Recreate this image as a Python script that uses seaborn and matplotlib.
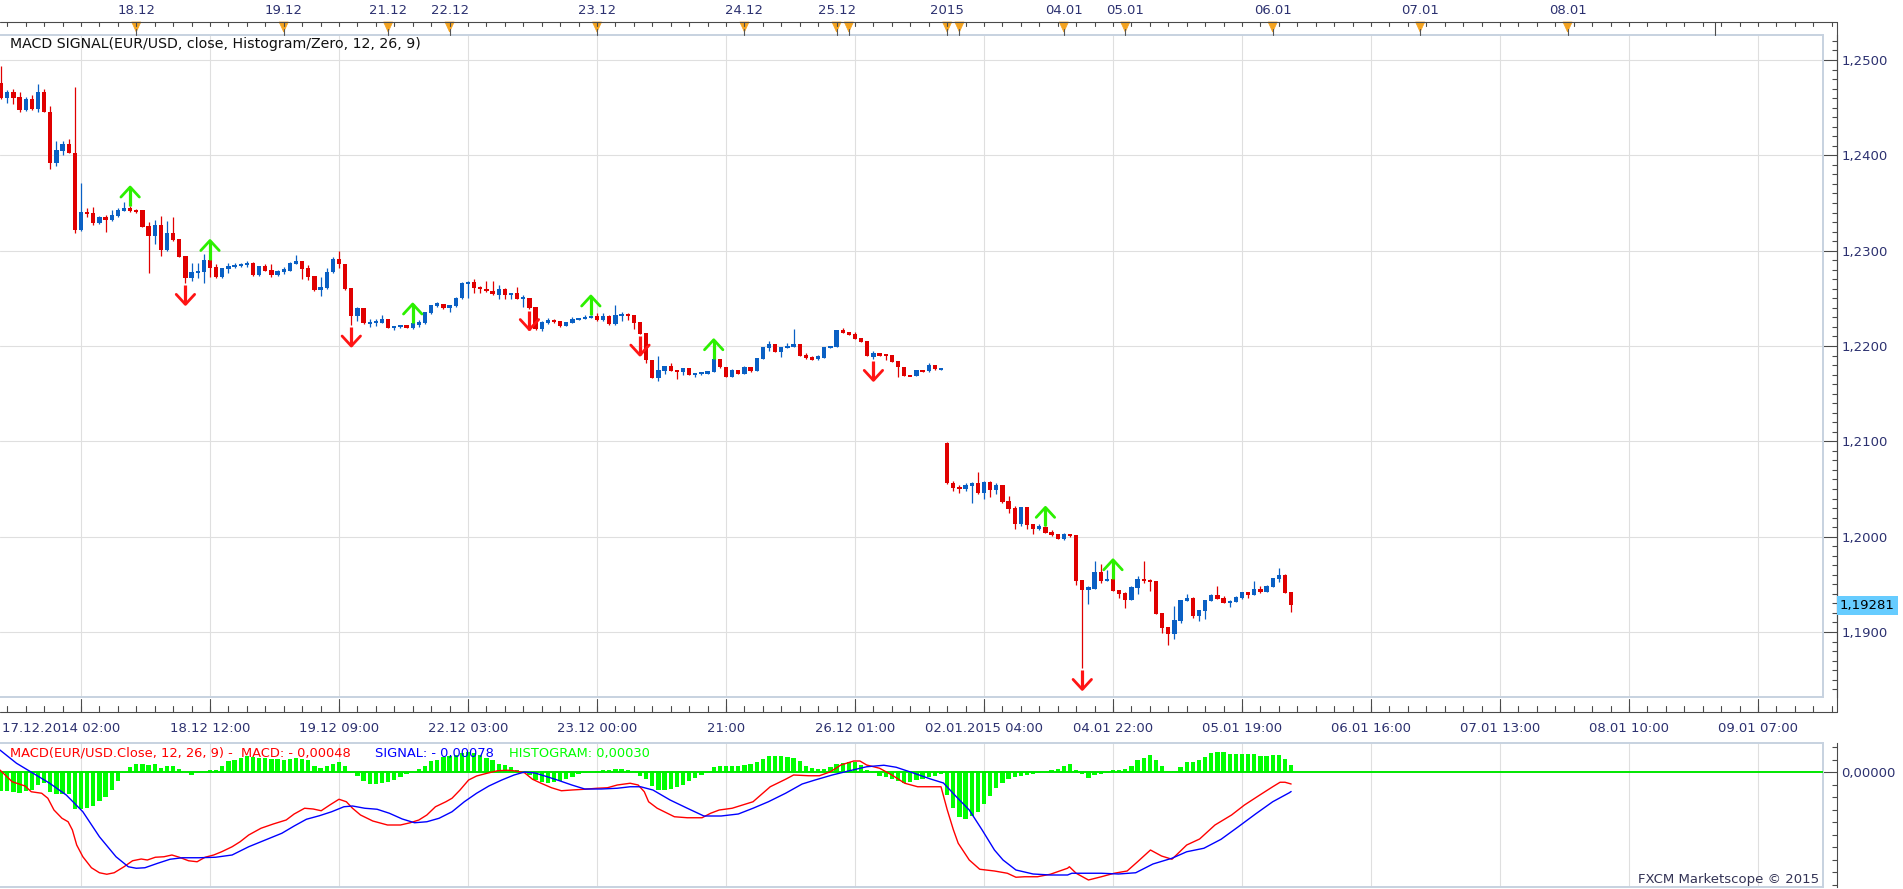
import numpy as np
import matplotlib
matplotlib.use("Agg")
import matplotlib.pyplot as plt
import matplotlib.transforms as mtransforms
from matplotlib.lines import Line2D
from matplotlib.patches import Polygon
from matplotlib.ticker import FixedLocator, MultipleLocator, FuncFormatter
import seaborn as sns

# ---------------- data (EUR/USD hourly candles, bar index 0 = 17.12.2014 02:00) ----------------
opens = [
1.24755, 1.24604, 1.24664, 1.24611, 1.24478, 1.24590, 1.24489, 1.24664, 1.24457, 1.23922,
1.24048, 1.24118, 1.24027, 1.23216, 1.23405, 1.23395, 1.23290, 1.23353, 1.23321, 1.23366,
1.23419, 1.23450, 1.23426, 1.23426, 1.23261, 1.23157, 1.23269, 1.23007, 1.23185, 1.23122,
1.22944, 1.22716, 1.22768, 1.22776, 1.22902, 1.22825, 1.22726, 1.22810, 1.22831, 1.22842,
1.22849, 1.22873, 1.22744, 1.22836, 1.22797, 1.22744, 1.22776, 1.22789, 1.22860, 1.22891,
1.22818, 1.22734, 1.22587, 1.22608, 1.22773, 1.22912, 1.22863, 1.22611, 1.22314, 1.22395,
1.22238, 1.22244, 1.22244, 1.22283, 1.22191, 1.22202, 1.22220, 1.22191, 1.22220, 1.22238,
1.22349, 1.22419, 1.22440, 1.22395, 1.22422, 1.22500, 1.22657, 1.22674, 1.22622, 1.22600,
1.22580, 1.22534, 1.22600, 1.22534, 1.22555, 1.22503, 1.22503, 1.22409, 1.22178, 1.22244,
1.22272, 1.22259, 1.22213, 1.22244, 1.22279, 1.22290, 1.22301, 1.22317, 1.22272, 1.22317,
1.22230, 1.22322, 1.22335, 1.22325, 1.22251, 1.22136, 1.21856, 1.21667, 1.21740, 1.21790,
1.21748, 1.21730, 1.21766, 1.21695, 1.21713, 1.21709, 1.21730, 1.21863, 1.21779, 1.21677,
1.21748, 1.21709, 1.21779, 1.21737, 1.21863, 1.21978, 1.22020, 1.21940, 1.21982, 1.21992,
1.22020, 1.21902, 1.21887, 1.21860, 1.21877, 1.21982, 1.21989, 1.22167, 1.22146, 1.22125,
1.22083, 1.22052, 1.21887, 1.21923, 1.21905, 1.21905, 1.21839, 1.21779, 1.21695, 1.21688,
1.21748, 1.21734, 1.21797, 1.21755, 1.20985, 1.20566, 1.20524, 1.20499, 1.20534, 1.20559,
1.20461, 1.20576, 1.20489, 1.20538, 1.20377, 1.20300, 1.20132, 1.20311, 1.20132, 1.20080,
1.20104, 1.20048, 1.20027, 1.19975, 1.20027, 1.20017, 1.19545, 1.19440, 1.19454, 1.19629,
1.19538, 1.19555, 1.19440, 1.19412, 1.19335, 1.19464, 1.19555, 1.19545, 1.19534, 1.19199,
1.19052, 1.18982, 1.19118, 1.19328, 1.19359, 1.19170, 1.19223, 1.19328, 1.19391, 1.19359,
1.19311, 1.19318, 1.19359, 1.19419, 1.19391, 1.19454, 1.19419, 1.19471, 1.19558, 1.19600,
1.19419]

highs = [
1.24937, 1.24685, 1.24692, 1.24667, 1.24611, 1.24632, 1.24748, 1.24692, 1.24517, 1.24150,
1.24150, 1.24171, 1.24720, 1.23706, 1.23450, 1.23461, 1.23363, 1.23374, 1.23426, 1.23450,
1.23507, 1.23468, 1.23442, 1.23431, 1.23297, 1.23321, 1.23363, 1.23311, 1.23356, 1.23127,
1.22949, 1.22867, 1.22867, 1.22965, 1.22907, 1.22856, 1.22818, 1.22867, 1.22867, 1.22875,
1.22891, 1.22878, 1.22839, 1.22860, 1.22860, 1.22792, 1.22831, 1.22878, 1.22954, 1.22896,
1.22849, 1.22739, 1.22726, 1.22815, 1.22936, 1.22996, 1.22865, 1.22613, 1.22405, 1.22398,
1.22279, 1.22279, 1.22325, 1.22286, 1.22214, 1.22225, 1.22225, 1.22241, 1.22272, 1.22361,
1.22435, 1.22461, 1.22445, 1.22435, 1.22513, 1.22671, 1.22678, 1.22702, 1.22626, 1.22681,
1.22681, 1.22639, 1.22605, 1.22561, 1.22615, 1.22534, 1.22508, 1.22414, 1.22257, 1.22290,
1.22286, 1.22262, 1.22251, 1.22307, 1.22298, 1.22328, 1.22325, 1.22343, 1.22343, 1.22322,
1.22430, 1.22359, 1.22349, 1.22330, 1.22255, 1.22141, 1.21858, 1.21895, 1.21793, 1.21818,
1.21751, 1.21769, 1.21769, 1.21716, 1.21722, 1.21740, 1.21866, 1.21866, 1.21782, 1.21755,
1.21751, 1.21787, 1.21782, 1.21877, 1.21992, 1.22055, 1.22024, 1.21989, 1.22034, 1.22178,
1.22024, 1.21923, 1.21891, 1.21905, 1.21992, 1.22003, 1.22170, 1.22185, 1.22150, 1.22150,
1.22087, 1.22055, 1.21947, 1.21926, 1.21908, 1.21908, 1.21842, 1.21782, 1.21698, 1.21748,
1.21751, 1.21818, 1.21800, 1.21772, 1.20989, 1.20587, 1.20541, 1.20566, 1.20576, 1.20681,
1.20580, 1.20580, 1.20566, 1.20541, 1.20426, 1.20321, 1.20314, 1.20314, 1.20135, 1.20132,
1.20108, 1.20069, 1.20030, 1.20035, 1.20030, 1.20020, 1.19548, 1.19482, 1.19744, 1.19713,
1.19650, 1.19558, 1.19443, 1.19416, 1.19479, 1.19590, 1.19744, 1.19555, 1.19538, 1.19202,
1.19055, 1.19272, 1.19338, 1.19398, 1.19363, 1.19233, 1.19338, 1.19395, 1.19485, 1.19377,
1.19332, 1.19380, 1.19422, 1.19422, 1.19535, 1.19482, 1.19489, 1.19569, 1.19674, 1.19605,
1.19422]

lows = [
1.24590, 1.24549, 1.24535, 1.24457, 1.24465, 1.24475, 1.24457, 1.24454, 1.23853, 1.23888,
1.24003, 1.24024, 1.23188, 1.23209, 1.23356, 1.23269, 1.23279, 1.23199, 1.23311, 1.23358,
1.23416, 1.23410, 1.23395, 1.23248, 1.22768, 1.23066, 1.22947, 1.23001, 1.23101, 1.22933,
1.22657, 1.22678, 1.22710, 1.22663, 1.22726, 1.22710, 1.22718, 1.22762, 1.22815, 1.22828,
1.22831, 1.22739, 1.22739, 1.22786, 1.22726, 1.22734, 1.22755, 1.22786, 1.22856, 1.22699,
1.22692, 1.22582, 1.22524, 1.22603, 1.22765, 1.22815, 1.22592, 1.22220, 1.22265, 1.22233,
1.22202, 1.22213, 1.22241, 1.22188, 1.22167, 1.22193, 1.22188, 1.22178, 1.22202, 1.22230,
1.22340, 1.22414, 1.22388, 1.22359, 1.22414, 1.22492, 1.22500, 1.22552, 1.22552, 1.22566,
1.22534, 1.22489, 1.22496, 1.22496, 1.22492, 1.22405, 1.22393, 1.22172, 1.22157, 1.22230,
1.22244, 1.22204, 1.22209, 1.22241, 1.22275, 1.22286, 1.22293, 1.22267, 1.22267, 1.22225,
1.22225, 1.22265, 1.22272, 1.22178, 1.22125, 1.21818, 1.21664, 1.21636, 1.21703, 1.21737,
1.21656, 1.21698, 1.21692, 1.21671, 1.21692, 1.21706, 1.21727, 1.21772, 1.21674, 1.21674,
1.21706, 1.21706, 1.21727, 1.21734, 1.21860, 1.21947, 1.21937, 1.21887, 1.21978, 1.21989,
1.21895, 1.21860, 1.21850, 1.21856, 1.21874, 1.21978, 1.21986, 1.22136, 1.22112, 1.22070,
1.22038, 1.21891, 1.21860, 1.21891, 1.21853, 1.21832, 1.21677, 1.21685, 1.21682, 1.21685,
1.21730, 1.21730, 1.21751, 1.21751, 1.20555, 1.20478, 1.20461, 1.20478, 1.20349, 1.20447,
1.20391, 1.20419, 1.20447, 1.20349, 1.20251, 1.20080, 1.20114, 1.20077, 1.20027, 1.20069,
1.20038, 1.20006, 1.19975, 1.19964, 1.19993, 1.19492, 1.18618, 1.19293, 1.19450, 1.19510,
1.19535, 1.19426, 1.19353, 1.19254, 1.19332, 1.19398, 1.19517, 1.19429, 1.19188, 1.18992,
1.18863, 1.18926, 1.19091, 1.19324, 1.19149, 1.19118, 1.19136, 1.19324, 1.19346, 1.19303,
1.19265, 1.19314, 1.19342, 1.19359, 1.19387, 1.19405, 1.19416, 1.19468, 1.19527, 1.19405,
1.19214]

closes = [
1.24604, 1.24664, 1.24604, 1.24478, 1.24590, 1.24489, 1.24664, 1.24457, 1.23922, 1.24056,
1.24118, 1.24027, 1.23216, 1.23405, 1.23384, 1.23290, 1.23353, 1.23321, 1.23374, 1.23426,
1.23450, 1.23419, 1.23416, 1.23251, 1.23157, 1.23269, 1.23007, 1.23185, 1.23111, 1.22936,
1.22716, 1.22776, 1.22789, 1.22902, 1.22821, 1.22726, 1.22815, 1.22842, 1.22849, 1.22860,
1.22873, 1.22744, 1.22836, 1.22789, 1.22744, 1.22786, 1.22804, 1.22873, 1.22891, 1.22810,
1.22726, 1.22587, 1.22615, 1.22776, 1.22912, 1.22856, 1.22594, 1.22314, 1.22395, 1.22238,
1.22251, 1.22251, 1.22283, 1.22191, 1.22209, 1.22220, 1.22191, 1.22238, 1.22248, 1.22353,
1.22430, 1.22447, 1.22395, 1.22430, 1.22506, 1.22663, 1.22674, 1.22611, 1.22594, 1.22576,
1.22542, 1.22594, 1.22538, 1.22555, 1.22496, 1.22505, 1.22395, 1.22178, 1.22251, 1.22272,
1.22251, 1.22209, 1.22248, 1.22283, 1.22293, 1.22307, 1.22317, 1.22272, 1.22317, 1.22230,
1.22328, 1.22335, 1.22325, 1.22244, 1.22129, 1.21853, 1.21667, 1.21748, 1.21790, 1.21740,
1.21734, 1.21766, 1.21695, 1.21713, 1.21714, 1.21737, 1.21863, 1.21776, 1.21677, 1.21751,
1.21709, 1.21782, 1.21737, 1.21874, 1.21989, 1.22020, 1.21940, 1.21986, 1.22000, 1.22020,
1.21898, 1.21877, 1.21853, 1.21891, 1.21989, 1.22000, 1.22167, 1.22139, 1.22115, 1.22073,
1.22041, 1.21895, 1.21926, 1.21895, 1.21898, 1.21835, 1.21776, 1.21688, 1.21685, 1.21745,
1.21734, 1.21797, 1.21755, 1.21769, 1.20559, 1.20513, 1.20503, 1.20541, 1.20559, 1.20461,
1.20576, 1.20489, 1.20538, 1.20363, 1.20286, 1.20132, 1.20311, 1.20122, 1.20080, 1.20111,
1.20041, 1.20017, 1.19978, 1.20027, 1.20006, 1.19538, 1.19443, 1.19468, 1.19629, 1.19538,
1.19555, 1.19429, 1.19398, 1.19335, 1.19475, 1.19555, 1.19538, 1.19527, 1.19191, 1.19044,
1.18982, 1.19125, 1.19335, 1.19353, 1.19170, 1.19230, 1.19335, 1.19391, 1.19349, 1.19307,
1.19328, 1.19370, 1.19419, 1.19387, 1.19450, 1.19419, 1.19485, 1.19566, 1.19600, 1.19408,
1.19281]

buy_signals = [21, 34, 67, 96, 116, 170, 181]
sell_signals = [30, 57, 86, 104, 142, 176]

hist_vals = [
-0.00077, -0.00077, -0.00081, -0.00084, -0.00077, -0.00073, -0.00051, -0.00044, -0.00081, -0.00087,
-0.00087, -0.00087, -0.00148, -0.00148, -0.00144, -0.00137, -0.00117, -0.00100, -0.00073, -0.00037,
-0.00004, 0.00019, 0.00033, 0.00033, 0.00029, 0.00033, 0.00016, 0.00023, 0.00023, 0.00012,
0.00001, -0.00011, -0.00004, 0.00000, 0.00009, 0.00009, 0.00023, 0.00043, 0.00049, 0.00056,
0.00063, 0.00060, 0.00056, 0.00056, 0.00053, 0.00053, 0.00049, 0.00052, 0.00056, 0.00052,
0.00047, 0.00023, 0.00016, 0.00023, 0.00033, 0.00040, 0.00023, -0.00002, -0.00017, -0.00037,
-0.00047, -0.00047, -0.00044, -0.00041, -0.00031, -0.00020, -0.00007, 0.00002, 0.00012, 0.00025,
0.00043, 0.00049, 0.00060, 0.00065, 0.00069, 0.00076, 0.00079, 0.00076, 0.00069, 0.00056,
0.00047, 0.00033, 0.00029, 0.00020, 0.00007, -0.00004, -0.00011, -0.00031, -0.00041, -0.00044,
-0.00041, -0.00037, -0.00028, -0.00020, -0.00008, -0.00004, 0.00002, 0.00005, 0.00009, 0.00009,
0.00012, 0.00012, 0.00007, 0.00003, -0.00016, -0.00028, -0.00057, -0.00071, -0.00073, -0.00068,
-0.00060, -0.00051, -0.00037, -0.00024, -0.00013, -0.00004, 0.00019, 0.00023, 0.00023, 0.00025,
0.00025, 0.00029, 0.00033, 0.00039, 0.00053, 0.00063, 0.00065, 0.00065, 0.00060, 0.00056,
0.00043, 0.00023, 0.00016, 0.00012, 0.00012, 0.00019, 0.00033, 0.00036, 0.00039, 0.00039,
0.00029, 0.00009, -0.00004, -0.00015, -0.00020, -0.00028, -0.00037, -0.00044, -0.00041, -0.00033,
-0.00028, -0.00020, -0.00015, -0.00009, -0.00091, -0.00144, -0.00180, -0.00188, -0.00177, -0.00160,
-0.00128, -0.00096, -0.00064, -0.00044, -0.00028, -0.00018, -0.00014, -0.00012, -0.00008, -0.00004,
0.00002, 0.00009, 0.00013, 0.00025, 0.00033, 0.00007, -0.00008, -0.00024, -0.00011, -0.00007,
-0.00002, 0.00007, 0.00009, 0.00013, 0.00025, 0.00049, 0.00056, 0.00069, 0.00047, 0.00025,
0.00005, 0.00005, 0.00020, 0.00039, 0.00039, 0.00047, 0.00059, 0.00076, 0.00081, 0.00079,
0.00072, 0.00073, 0.00073, 0.00072, 0.00072, 0.00065, 0.00065, 0.00069, 0.00069, 0.00053,
0.00030]

macd_x = [-0.2, 1.8, 3.9, 4.9, 6.6, 7.6, 8.6, 9.9, 10.9, 11.6, 12.3, 13.3, 14.7, 16.0, 17.2, 18.4,
          20.0, 21.4, 22.8, 23.8, 25.1, 26.5, 27.8, 29.0, 30.5, 31.9, 33.2, 34.6, 35.9, 37.6, 38.9,
          40.3, 42.3, 44.3, 46.4, 47.7, 49.4, 50.8, 52.1, 53.5, 55.0, 56.2, 57.2, 58.5, 60.5, 62.9,
          65.0, 66.6, 68.0, 69.3, 70.7, 72.4, 73.4, 74.7, 76.1, 77.4, 79.1, 80.8, 82.5, 83.8, 85.2,
          86.5, 87.9, 89.6, 91.2, 92.9, 95.0, 97.0, 98.7, 100.3, 102.4, 103.7, 104.7, 105.4, 106.8,
          109.6, 111.7, 114.1, 115.5, 116.9, 119.0, 120.7, 122.4, 125.2, 127.7, 129.0, 131.5, 133.2,
          135.0, 136.7, 138.8, 139.8, 140.9, 143.0, 145.0, 147.1, 149.2, 151.3, 153.0, 154.0, 155.0,
          155.8, 157.6, 159.3, 161.7, 163.8, 165.2, 166.6, 168.7, 170.8, 173.6, 173.9, 175.0, 177.0,
          179.1, 181.2, 183.3, 185.0, 187.1, 188.9, 190.6, 193.0, 195.1, 197.6, 200.3, 202.4, 204.9,
          207.0, 208.2, 209.0, 210.0]
macd_vals = [0.00008, -0.00039, -0.00056, -0.00079, -0.00085, -0.00105, -0.00152, -0.00185, -0.00199,
             -0.00232, -0.00292, -0.00339, -0.00383, -0.00403, -0.00409, -0.00403, -0.00379, -0.00355,
             -0.00348, -0.00352, -0.00341, -0.00339, -0.00332, -0.00341, -0.00355, -0.00359, -0.00341,
             -0.00332, -0.00319, -0.00299, -0.00279, -0.00252, -0.00225, -0.00208, -0.00192, -0.00168,
             -0.00145, -0.00148, -0.00155, -0.00132, -0.00109, -0.00119, -0.00145, -0.00172, -0.00196,
             -0.00212, -0.00212, -0.00203, -0.00192, -0.00172, -0.00139, -0.00119, -0.00105, -0.00072,
             -0.00032, -0.00016, -0.00005, 0.00005, 0.00007, 0.00004, -0.00003, -0.00029, -0.00045,
             -0.00063, -0.00075, -0.00072, -0.00069, -0.00065, -0.00063, -0.00052, -0.00045, -0.00052,
             -0.00079, -0.00119, -0.00145, -0.00179, -0.00183, -0.00183, -0.00165, -0.00152, -0.00145,
             -0.00132, -0.00119, -0.00059, -0.00029, -0.00012, -0.00015, -0.00015, 0.00001, 0.00028,
             0.00044, 0.00044, 0.00028, 0.00015, -0.00012, -0.00045, -0.00059, -0.00059, -0.00059,
             -0.00150, -0.00230, -0.00285, -0.00352, -0.00389, -0.00396, -0.00405, -0.00421, -0.00419,
             -0.00419, -0.00409, -0.00385, -0.00379, -0.00405, -0.00432, -0.00419, -0.00405, -0.00396,
             -0.00359, -0.00312, -0.00336, -0.00349, -0.00292, -0.00268, -0.00212, -0.00172, -0.00132,
             -0.00092, -0.00059, -0.00041, -0.00041, -0.00048]

signal_x = [-0.2, 2.5, 5.2, 7.9, 10.6, 13.3, 16.0, 18.7, 20.7, 22.0, 23.4, 25.5, 27.5, 29.5, 32.2,
            34.9, 37.6, 40.3, 43.0, 45.7, 47.7, 49.7, 51.8, 53.8, 55.8, 57.2, 59.2, 61.2, 63.2, 65.3,
            67.3, 69.3, 71.3, 73.4, 75.4, 77.4, 79.4, 81.5, 83.5, 85.2, 86.9, 88.9, 90.9, 92.9, 95.0,
            97.7, 100.3, 102.4, 104.1, 106.1, 108.9, 111.7, 114.4, 117.2, 120.0, 122.4, 124.9, 127.7,
            130.4, 132.5, 135.3, 138.1, 140.9, 143.7, 145.7, 148.5, 151.3, 153.4, 155.5, 157.6, 159.7,
            161.7, 163.1, 165.2, 168.0, 170.8, 173.6, 174.3, 179.1, 181.9, 184.7, 187.5, 190.6, 193.0,
            195.8, 198.6, 201.4, 204.2, 207.0, 209.7, 210.0]
signal_vals = [0.00088, 0.00035, -0.00005, -0.00045, -0.00092, -0.00159, -0.00259, -0.00339, -0.00379,
               -0.00385, -0.00383, -0.00365, -0.00349, -0.00343, -0.00343, -0.00341, -0.00332, -0.00299,
               -0.00272, -0.00245, -0.00216, -0.00189, -0.00175, -0.00159, -0.00139, -0.00136, -0.00145,
               -0.00149, -0.00165, -0.00188, -0.00203, -0.00199, -0.00185, -0.00159, -0.00119, -0.00085,
               -0.00056, -0.00032, -0.00012, 0.00000, -0.00004, -0.00019, -0.00035, -0.00052, -0.00068,
               -0.00068, -0.00065, -0.00059, -0.00059, -0.00072, -0.00112, -0.00145, -0.00176, -0.00176,
               -0.00168, -0.00145, -0.00119, -0.00085, -0.00048, -0.00032, -0.00012, 0.00005, 0.00021,
               0.00027, 0.00019, -0.00004, -0.00028, -0.00044, -0.00099, -0.00152, -0.00232, -0.00312,
               -0.00352, -0.00392, -0.00408, -0.00412, -0.00412, -0.00405, -0.00405, -0.00408, -0.00403,
               -0.00368, -0.00345, -0.00319, -0.00305, -0.00269, -0.00219, -0.00168, -0.00119, -0.00083,
               -0.00078]

last_price = 1.19281
price_ticks = [1.19, 1.20, 1.21, 1.22, 1.23, 1.24, 1.25]
grid_bars = [13, 34, 55, 76, 97, 118, 139, 160, 181, 202, 223, 244, 265, 286]
bottom_labels = ["", "18.12 12:00", "19.12 09:00", "22.12 03:00", "23.12 00:00", "21:00",
                 "26.12 01:00", "02.01.2015 04:00", "04.01 22:00", "05.01 19:00", "06.01 16:00",
                 "07.01 13:00", "08.01 10:00", "09.01 07:00"]
first_label = "17.12.2014 02:00"
day_bars = [22, 46, 63, 73, 97, 121, 136, 154, 173, 183, 207, 231, 255]
day_labels = ["18.12", "19.12", "21.12", "22.12", "23.12", "24.12", "25.12", "2015",
              "04.01", "05.01", "06.01", "07.01", "08.01"]
extra_day_marks = [138, 156]
title = "MACD SIGNAL(EUR/USD, close, Histogram/Zero, 12, 26, 9)"
legend_macd = "MACD(EUR/USD.Close, 12, 26, 9) -  MACD: - 0,00048"
legend_signal = "SIGNAL: - 0,00078"
legend_hist = "HISTOGRAM: 0,00030"
credit = "FXCM Marketscope \u00a9 2015"

n = len(closes)
assert len(opens) == n and len(highs) == n and len(lows) == n and len(hist_vals) == n
assert len(macd_x) == len(macd_vals) and len(signal_x) == len(signal_vals)

# ---------------- styling / layout ----------------
sns.set_theme(style="white")
plt.rcParams['font.family'] = ['DejaVu Sans']

W, H = 1903, 889
fig = plt.figure(figsize=(W / 100, H / 100), dpi=100)
fig.patch.set_facecolor('white')

def fxp(px):
    return px / W

def fyp(py):
    return 1 - py / H

BAR_PX = 129 / 21
X0 = 81 - 13 * BAR_PX

def px2bar(px):
    return (px - X0) / BAR_PX

PPX = 0.06 / 572          # price per pixel
MPX = 0.00004             # macd per pixel
TXT = '#2c3170'
AXC = '#4a4a4a'
FRAME = '#c7d2e0'
GRID = '#dfdfdf'
FS = 9.5

ax = fig.add_axes([0, fyp(697), fxp(1823), fyp(35) - fyp(697)])
axm = fig.add_axes([0, fyp(887), fxp(1823), fyp(743) - fyp(887)])

for a in (ax, axm):
    a.set_facecolor('white')
    a.set_xlim(px2bar(0), px2bar(1823))
    a.set_xticks(grid_bars)
    a.tick_params(axis='x', which='both', length=0, labelbottom=False, labeltop=False)
    a.grid(True, axis='x', color=GRID, lw=0.8)
    a.spines['left'].set_visible(False)
    for s in ('top', 'bottom'):
        a.spines[s].set_color(FRAME)
        a.spines[s].set_linewidth(1.4)
    a.spines['right'].set_position(('outward', 14 * 0.72))
    a.spines['right'].set_color(AXC)
    a.spines['right'].set_linewidth(0.8)
    a.yaxis.set_ticks_position('right')
    a.add_line(Line2D([1, 1], [0, 1], transform=a.transAxes, color=FRAME, lw=1.4, clip_on=False))
    a.set_axisbelow(True)

# price axis
ax.set_ylim(1.19 - (697 - 632) * PPX, 1.25 + (60 - 35) * PPX)
ax.yaxis.set_major_locator(FixedLocator(price_ticks))
ax.yaxis.set_minor_locator(MultipleLocator(0.001))
ax.yaxis.set_major_formatter(FuncFormatter(lambda v, p: f"{v:.4f}".replace('.', ',')))
ax.tick_params(axis='y', which='major', direction='in', length=10, width=0.8, color=AXC,
               labelsize=FS, labelcolor=TXT, pad=3, right=True, left=False,
               labelright=True, labelleft=False)
ax.tick_params(axis='y', which='minor', direction='in', length=3.6, width=0.8, color=AXC,
               right=True, left=False)
ax.grid(True, axis='y', which='major', color=GRID, lw=0.8)

# candles
idx = np.arange(n)
o = np.array(opens); h = np.array(highs); l = np.array(lows); c = np.array(closes)
up = c >= o
cols = np.where(up, '#0a60c4', '#e00000')
ax.vlines(idx, l, h, colors=cols, lw=0.9, zorder=3)
lo = np.minimum(o, c); hi = np.maximum(o, c)
min_h = 2 * PPX
small = (hi - lo) < min_h
bottom = np.where(small, (o + c) / 2 - min_h / 2, lo)
height = np.where(small, min_h, hi - lo)
ax.bar(idx, height, bottom=bottom, width=0.72, color=cols, lw=0, zorder=4)

# signal arrows
alen = 19 * PPX
hh = 10 * PPX
hw = 1.5
for i in buy_signals:
    base = highs[i]
    tip = base + alen
    ax.plot([i, i], [base, tip], color='#2cf000', lw=2.3, solid_capstyle='butt', zorder=6)
    ax.plot([i - hw, i, i + hw], [tip - hh, tip, tip - hh], color='#2cf000', lw=2.0, zorder=6)
for i in sell_signals:
    top = lows[i] - 2 * PPX
    tip = lows[i] - 21 * PPX
    ax.plot([i, i], [top, tip], color='#ff1414', lw=2.3, solid_capstyle='butt', zorder=6)
    ax.plot([i - hw, i, i + hw], [tip + hh, tip, tip + hh], color='#ff1414', lw=2.0, zorder=6)

# last price tag
tag_tr = mtransforms.blended_transform_factory(fig.transFigure, ax.transData)
fig.text(fxp(1840), last_price, "1,19281", transform=tag_tr, ha='left', va='center',
         fontsize=FS, color='black',
         bbox=dict(boxstyle='square,pad=0.22', fc='#66ccff', ec='none'))

# MACD panel
axm.set_ylim(-(887 - 772) * MPX, (772 - 743) * MPX)
axm.yaxis.set_major_locator(FixedLocator([0.0]))
axm.yaxis.set_minor_locator(MultipleLocator(0.0005))
axm.yaxis.set_major_formatter(FuncFormatter(lambda v, p: "0,00000"))
axm.tick_params(axis='y', which='major', direction='in', length=10, width=0.8, color=AXC,
                labelsize=FS, labelcolor=TXT, pad=3, right=True, left=False,
                labelright=True, labelleft=False)
axm.tick_params(axis='y', which='minor', direction='in', length=3.6, width=0.8, color=AXC,
                right=True, left=False)
axm.bar(idx, hist_vals, width=0.68, color='#00ff00', lw=0, zorder=2)
axm.axhline(0, color='#00e600', lw=1.4, zorder=3)
sns.lineplot(x=macd_x, y=macd_vals, ax=axm, color='#ff0000', lw=1.0, sort=False,
             estimator=None, zorder=4)
sns.lineplot(x=signal_x, y=signal_vals, ax=axm, color='#0000ff', lw=1.0, sort=False,
             estimator=None, zorder=4)
axm.set_xlabel('')
axm.set_ylabel('')
axm.set_xlim(px2bar(0), px2bar(1823))

# ---------------- time axes drawn in figure space ----------------
bt = mtransforms.blended_transform_factory(ax.transData, fig.transFigure)

def fig_line(xs, ys, tr, **kw):
    fig.add_artist(Line2D(xs, ys, transform=tr, **kw))

# right axis full line
fig_line([fxp(1837), fxp(1837)], [fyp(22), fyp(712)], fig.transFigure, color=AXC, lw=0.8)

# top date axis
fig_line([0, fxp(1837)], [fyp(22), fyp(22)], fig.transFigure, color=AXC, lw=0.8)
last_bar = px2bar(1835)
for t in range(1, int(last_bar) + 1, 3):
    fig_line([t, t], [fyp(22), fyp(26)], bt, color=AXC, lw=0.8)
for t in day_bars + extra_day_marks:
    fig.add_artist(Polygon([(t - 0.75, fyp(22)), (t + 0.75, fyp(22)), (t, fyp(32))],
                           closed=True, transform=bt, fc='#f5a31f', ec='#f5a31f', lw=0.5))
    fig_line([t, t], [fyp(29), fyp(35)], bt, color='#555555', lw=0.8)
for t, s in zip(day_bars, day_labels):
    fig.text(t, fyp(10.5), s, transform=bt, ha='center', va='center', fontsize=FS, color=TXT)
fig_line([279, 279], [fyp(22), fyp(35)], bt, color=AXC, lw=0.8)

# bottom time axis
fig_line([0, fxp(1837)], [fyp(712), fyp(712)], fig.transFigure, color=AXC, lw=0.8)
for t in range(1, int(last_bar) + 1, 3):
    fig_line([t, t], [fyp(706), fyp(712)], bt, color=AXC, lw=0.8)
for t, s in zip(grid_bars, bottom_labels):
    fig_line([t, t], [fyp(699), fyp(712)], bt, color=AXC, lw=0.8)
    if s:
        fig.text(t, fyp(728), s, transform=bt, ha='center', va='center', fontsize=FS, color=TXT)
fig.text(fxp(2), fyp(728), first_label, ha='left', va='center', fontsize=FS, color=TXT)

# texts
fig.text(fxp(10), fyp(44), title, ha='left', va='center', fontsize=10.2, color='#111111')
fig.text(fxp(10), fyp(753), legend_macd, ha='left', va='center', fontsize=9.4, color='#ff0000')
fig.text(fxp(375), fyp(753), legend_signal, ha='left', va='center', fontsize=9.4, color='#0000ff')
fig.text(fxp(509), fyp(753), legend_hist, ha='left', va='center', fontsize=9.4, color='#00ff00')
fig.text(fxp(1819), fyp(879), credit, ha='right', va='center', fontsize=FS, color='#333355')

fig.savefig("out.png", dpi=100, facecolor='white')
